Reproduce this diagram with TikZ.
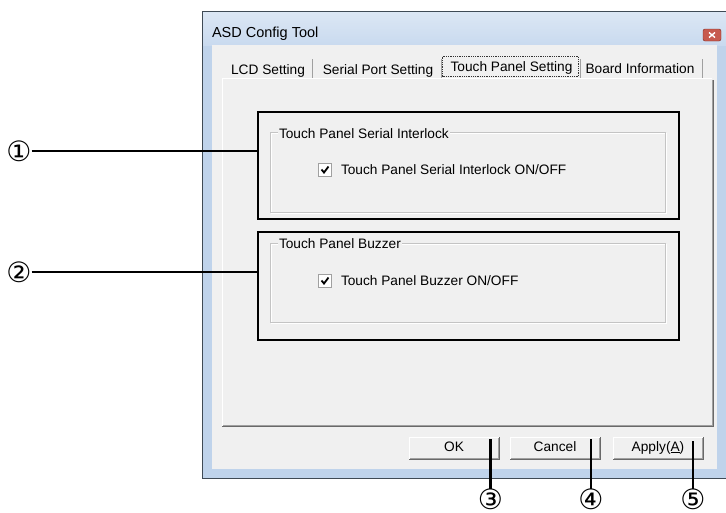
\documentclass[tikz,border=0pt]{standalone}
\usepackage{fontspec}
\setmainfont{Liberation Sans}
\newfontfamily\dejavu{DejaVu Sans}
\definecolor{uigray}{HTML}{F0F0F0}
\definecolor{frameblue}{HTML}{BFD3EB}
\definecolor{titletop}{HTML}{DCE7F4}
\definecolor{titlebot}{HTML}{C9DAEF}
\definecolor{winedge}{HTML}{3F4A55}
\definecolor{edgedark}{HTML}{696969}
\definecolor{edgemid}{HTML}{A0A0A0}
\definecolor{grpline}{HTML}{C4C4C4}
\definecolor{closered}{HTML}{C75A4E}
\definecolor{closeedge}{HTML}{7E2A22}
\begin{document}
\begin{tikzpicture}[x=1pt,y=-1pt,
  uifont/.style={font=\fontsize{13.7}{16}\selectfont},
  ui/.style={uifont, inner sep=0pt, outer sep=0pt, anchor=base west},
  tabtext/.style={uifont, inner sep=0pt, anchor=base},
  callout/.style={font=\dejavu\fontsize{28}{28}\selectfont, inner sep=0pt, outer sep=0pt},
  cline/.style={line width=2.3pt, black},
  hlbox/.style={draw=black, line width=2.6pt, inner sep=0pt, outer sep=0pt, anchor=north west},
  grp/.style={draw=grpline, line width=1pt},
  grptitle/.style={uifont, fill=uigray, inner xsep=1.5pt, inner ysep=0pt, outer sep=0pt, anchor=base west},
  chk/.style={draw=edgemid, fill=white, line width=1pt, minimum size=13pt, inner sep=0pt, outer sep=0pt},
  tick/.style={black, line width=1.8pt},
  btn/.style={uifont, fill=uigray, minimum width=90pt, minimum height=22pt, inner sep=0pt, outer sep=0pt, text height=10pt, text depth=4pt},
  sep/.style={edgemid, line width=1pt}
]
\useasboundingbox (0,0) rectangle (726,512);
\fill[white] (0,0) rectangle (726,512);

% window frame
\fill[frameblue] (202,11) rectangle (726,479);
\shade[top color=titletop, bottom color=titlebot] (202,11) rectangle (726,45);
\fill[uigray] (212,45) rectangle (717,469);
\draw[winedge, line width=1pt] (726,11.5) -- (202.5,11.5) -- (202.5,478.5) -- (726,478.5);

\node[ui, font=\fontsize{14.5}{16}\selectfont] (title) at (212,37) {ASD Config Tool};
\node[draw=closeedge, fill=closered, rounded corners=2pt, minimum width=18pt, minimum height=12pt, inner sep=0pt] (close) at (712,35) {};
\draw[white, line width=1.4pt] ([shift={(-3,-2.5)}]close.center) -- ([shift={(3,2.5)}]close.center)
  ([shift={(-3,2.5)}]close.center) -- ([shift={(3,-2.5)}]close.center);

% tab panel
\draw[white, line width=1pt] (222.5,426) -- (222.5,78.5) -- (712,78.5);
\draw[edgemid, line width=1pt] (712.5,80) -- (712.5,425.5) -- (223,425.5);
\draw[edgedark, line width=1pt] (713.5,80) -- (713.5,426.5) -- (222,426.5);

% tabs
\foreach \sx in {312,441,580,702} { \draw[sep] (\sx,59) -- (\sx,78); }
\draw[black!80, densely dotted, line width=0.8pt] (442.5,56.5) rectangle (578.5,76.5);
\node[tabtext] (tab1) at (268,74) {LCD Setting};
\node[tabtext] (tab2) at (378,74) {Serial Port Setting};
\node[tabtext] (tab3) at (511.5,71) {Touch Panel Setting};
\node[tabtext] (tab4) at (640,73.5) {Board Information};

% group 1
\draw[white, line width=1pt] (271,133) rectangle (666,213);
\draw[grp] (270,132) rectangle (665,212);
\node[grptitle] (g1t) at (277.5,138) {Touch Panel Serial Interlock};
\node[chk] (chk1) at (325,170) {};
\draw[tick] ([shift={(-3.5,-0.5)}]chk1.center) -- ([shift={(-1,2.5)}]chk1.center) -- ([shift={(3.5,-3.5)}]chk1.center);
\node[ui] (t1) at (341,174) {Touch Panel Serial Interlock ON/OFF};

% group 2
\draw[white, line width=1pt] (271,244) rectangle (666,323);
\draw[grp] (270,243) rectangle (665,322);
\node[grptitle] (g2t) at (277.5,248.5) {Touch Panel Buzzer};
\node[chk] (chk2) at (325,281) {};
\draw[tick] ([shift={(-3.5,-0.5)}]chk2.center) -- ([shift={(-1,2.5)}]chk2.center) -- ([shift={(3.5,-3.5)}]chk2.center);
\node[ui] (t2) at (341,285.5) {Touch Panel Buzzer ON/OFF};

% highlight boxes
\node[hlbox, minimum width=421pt, minimum height=107pt] (box1) at (258,112) {};
\node[hlbox, minimum width=421pt, minimum height=108pt] (box2) at (258,232) {};

% buttons
\node[btn] (ok) at (454,448) {OK};
\node[btn] (cancel) at (555,448) {Cancel};
\node[btn] (apply) at (658,448) {Apply(\underline{A})};
\foreach \b in {ok,cancel,apply} {
  \draw[white, line width=1pt] (\b.south west) -- (\b.north west) -- (\b.north east);
  \draw[edgedark, line width=1pt] (\b.north east) -- (\b.south east) -- (\b.south west);
  \draw[edgemid, line width=1pt] ([shift={(-1,1)}]\b.north east) -- ([shift={(-1,-1)}]\b.south east) -- ([shift={(1,-1)}]\b.south west);
}

% callouts
\node[callout] (c1) at (19,151) {①};
\node[callout] (c2) at (19,272) {②};
\node[callout] (c3) at (490.5,499) {③};
\node[callout] (c4) at (591,499) {④};
\node[callout] (c5) at (693,499) {⑤};
\coordinate (p3) at (490.5,439);
\coordinate (p4) at (591,439);
\coordinate (p5) at (693,441);

\draw[cline] (c1.east) -- (c1.east -| box1.west);
\draw[cline] (c2.east) -- (c2.east -| box2.west);
\draw[cline] (c3.north) -- (p3);
\draw[cline] (c4.north) -- (p4);
\draw[cline] (c5.north) -- (p5);
\end{tikzpicture}
\end{document}
